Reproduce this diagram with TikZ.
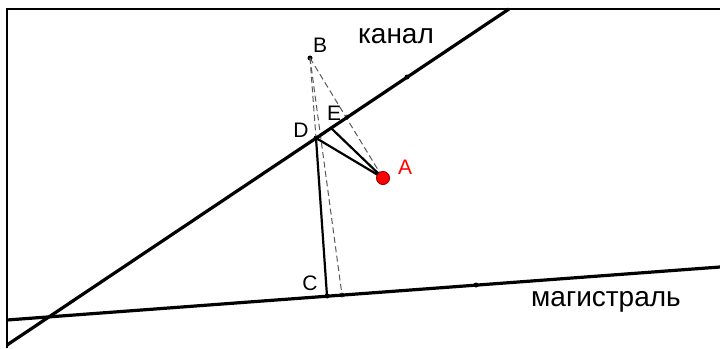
\documentclass[tikz,border=0pt]{standalone}
\usepackage{fontspec}
\setmainfont{Liberation Sans}
\begin{document}
\begin{tikzpicture}[x=1pt,y=-1pt,
  thick line/.style={line width=3.2pt},
  mid line/.style={line width=2.2pt},
  dash line/.style={line width=1pt, black!65, dash pattern=on 6pt off 3.5pt},
  pt/.style={circle, fill=black, inner sep=0pt, minimum size=5pt},
  gpt/.style={circle, fill=black!60, inner sep=0pt, minimum size=5pt},
  redpt/.style={circle, fill=red, draw=red!55!black, line width=0.6pt, inner sep=0pt, minimum size=13pt},
  lbl/.style={font=\fontsize{21}{21}\selectfont, inner sep=0pt},
  word/.style={font=\fontsize{28}{28}\selectfont, inner sep=0pt}]
\useasboundingbox (0,0) rectangle (720,348);
% frame
\draw[line width=1.6pt] (7,348) -- (7,9) -- (720,9);
% line ends
\coordinate (cA) at (7,345);
\coordinate (cB) at (509,9);
\coordinate (mA) at (7,320);
\coordinate (mB) at (720,267);
% points
\node[pt] (D) at (316,138) {};
\node[pt, minimum size=3pt] (E) at (331,128) {};
\node[pt] (B) at (310,58) {};
\node[redpt] (A) at (383,178) {};
\node[pt] (C) at (327,296) {};
\node[gpt] (F) at (342,295) {};
\node[gpt] (G) at (347,117) {};
\node[pt] (P1) at (407,77) {};
\node[pt] (P2) at (476,285) {};
% dashed
\draw[dash line] (B.center) -- (D.center);
\draw[dash line] (B.center) -- (F.center);
\draw[dash line] (B.center) -- (A.center);
% main lines
\draw[thick line] (cA) -- (cB);
\draw[thick line] (mA) -- (mB);
% solid segments
\draw[mid line] (D.center) -- (C.center);
\draw[mid line] (D.center) -- (A.center);
\draw[mid line] (E.center) -- (A.center);
\node[redpt] at (A) {};
% labels
\node[lbl] at (320,45) {B};
\node[lbl] at (334,113) {E};
\node[lbl] at (301,130) {D};
\node[lbl, text=red] at (405,167) {A};
\node[lbl] at (310,283) {C};
\node[word] at (396,36) {канал};
\node[word] at (606,302) {магистраль};
\end{tikzpicture}
\end{document}
